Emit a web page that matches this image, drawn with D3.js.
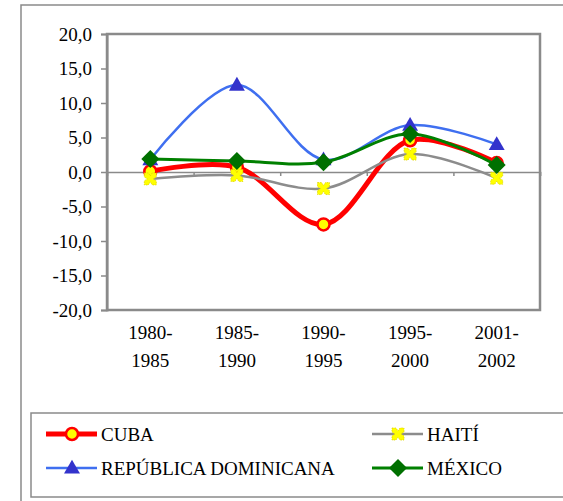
<!DOCTYPE html>
<html>
<head>
<meta charset="utf-8">
<script src="https://cdn.jsdelivr.net/npm/d3@7"></script>
<style>
  body { margin: 0; background: #fff; }
</style>
</head>
<body>
<svg id="chart"></svg>
<script>
const periods = [["1980-", "1985"], ["1985-", "1990"], ["1990-", "1995"], ["1995-", "2000"], ["2001-", "2002"]];
const yTicks = [-20, -15, -10, -5, 0, 5, 10, 15, 20];

const cuba = [0.1, 0.7, -7.6, 4.6, 1.3];
const haiti = [-1.0, -0.5, -2.4, 2.6, -0.9];
const repDom = [1.8, 12.6, 1.8, 6.8, 4.0];
const mexico = [1.9, 1.6, 1.4, 5.5, 1.0];

const series = [
  { name: "CUBA", values: cuba, color: "#ff0000", width: 5, marker: "circle" },
  { name: "HAITÍ", values: haiti, color: "#8c8c8c", width: 2.5, marker: "x" },
  { name: "REPÚBLICA DOMINICANA", values: repDom, color: "#3f6ff0", width: 2.5, marker: "triangle" },
  { name: "MÉXICO", values: mexico, color: "#008000", width: 3, marker: "diamond" }
];

const FONT = "'Times New Roman', Tinos, 'Liberation Serif', 'Noto Serif', 'FreeSerif', Times, serif";
const W = 563, H = 501;
const plot = { left: 107, right: 540, top: 34, bottom: 310 };

const svg = d3.select("#chart").attr("width", W).attr("height", H)
  .style("font-family", FONT);

// outer chart frame
svg.append("path")
  .attr("d", `M21,${H + 5}V5H${W + 5}`)
  .attr("fill", "none")
  .attr("stroke", "#8a8a8a")
  .attr("stroke-width", 1.5);

const x = d3.scalePoint().domain(d3.range(periods.length)).range([plot.left, plot.right]).padding(0.5);
const xEdge = d3.scaleLinear().domain([0, periods.length]).range([plot.left, plot.right]);
const y = d3.scaleLinear().domain([-20, 20]).range([plot.bottom, plot.top]);

// plot frame
svg.append("rect")
  .attr("x", plot.left)
  .attr("y", plot.top)
  .attr("width", plot.right - plot.left)
  .attr("height", plot.bottom - plot.top)
  .attr("fill", "#fff")
  .attr("stroke", "#8a8a8a")
  .attr("stroke-width", 2.5);

// y axis
const yAxis = svg.append("g")
  .attr("transform", `translate(${plot.left},0)`)
  .call(d3.axisLeft(y).tickValues(yTicks).tickSize(6).tickPadding(9)
    .tickFormat(d => d.toFixed(1).replace(".", ",")));
yAxis.attr("font-size", 19).style("font-family", FONT);
yAxis.select(".domain").attr("stroke", "#8a8a8a").attr("stroke-width", 2);
yAxis.selectAll(".tick line").attr("stroke", "#8a8a8a").attr("stroke-width", 1.5);
yAxis.selectAll("text").attr("fill", "#000");

// x axis on zero line
const xAxis = svg.append("g")
  .attr("transform", `translate(0,${y(0)})`)
  .call(d3.axisBottom(xEdge).tickValues(d3.range(1, periods.length + 1)).tickSize(4).tickFormat(""));
xAxis.select(".domain").attr("stroke", "#8a8a8a").attr("stroke-width", 1.5);
xAxis.selectAll(".tick line").attr("stroke", "#8a8a8a").attr("stroke-width", 1.5);

// category labels
const cat = svg.append("g").selectAll("text")
  .data(periods)
  .join("text")
  .attr("x", (d, i) => x(i))
  .attr("y", 339)
  .attr("text-anchor", "middle")
  .style("font-family", FONT)
  .attr("font-size", 19);
cat.append("tspan").attr("x", (d, i) => x(i)).text(d => d[0]);
cat.append("tspan").attr("x", (d, i) => x(i)).attr("dy", 28).text(d => d[1]);

const line = d3.line()
  .x((d, i) => x(i))
  .y(d => y(d))
  .curve(d3.curveCatmullRom.alpha(0.5));

function drawMarker(g, type, cx, cy) {
  if (type === "circle") {
    g.append("circle").attr("cx", cx).attr("cy", cy).attr("r", 6)
      .attr("fill", "#ffff00").attr("stroke", "#ff0000").attr("stroke-width", 2.5);
  } else if (type === "x") {
    g.append("path").attr("transform", `translate(${cx},${cy})`)
      .attr("d", "M-6,-6L-2,-6L0,-3L2,-6L6,-6L6,-2L3,0L6,2L6,6L2,6L0,3L-2,6L-6,6L-6,2L-3,0L-6,-2Z")
      .attr("fill", "#ffff00").attr("stroke", "#e0d400").attr("stroke-width", 0.8)
      .attr("stroke-dasharray", "1.5,1");
  } else if (type === "triangle") {
    g.append("path").attr("transform", `translate(${cx},${cy + 1})`)
      .attr("d", d3.symbol(d3.symbolTriangle, 110)())
      .attr("fill", "#3333cc");
  } else if (type === "diamond") {
    g.append("path").attr("transform", `translate(${cx},${cy})`)
      .attr("d", "M0,-9L9,0L0,9L-9,0Z")
      .attr("fill", "#007000");
  }
}

// series
series.forEach(s => {
  const g = svg.append("g");
  g.append("path")
    .datum(s.values)
    .attr("d", line)
    .attr("fill", "none")
    .attr("stroke", s.color)
    .attr("stroke-width", s.width)
    .attr("stroke-linejoin", "round");
  s.values.forEach((v, i) => drawMarker(g, s.marker, x(i), y(v)));
});

// legend
const legend = svg.append("g");
legend.append("rect")
  .attr("x", 31).attr("y", 413)
  .attr("width", W + 20).attr("height", 84)
  .attr("fill", "#fff")
  .attr("stroke", "#8a8a8a").attr("stroke-width", 1.5);

const legendPos = [[46, 434], [372, 434], [46, 468], [372, 468]];
series.forEach((s, i) => {
  const [lx, ly] = legendPos[i];
  const g = legend.append("g");
  g.append("line")
    .attr("x1", lx).attr("x2", lx + 51)
    .attr("y1", ly).attr("y2", ly)
    .attr("stroke", s.color).attr("stroke-width", s.width);
  drawMarker(g, s.marker, lx + 26, ly);
  g.append("text")
    .attr("x", lx + 55).attr("y", ly)
    .attr("dy", "0.35em")
    .style("font-family", FONT)
    .attr("font-size", 19)
    .text(s.name);
});
</script>
</body>
</html>
